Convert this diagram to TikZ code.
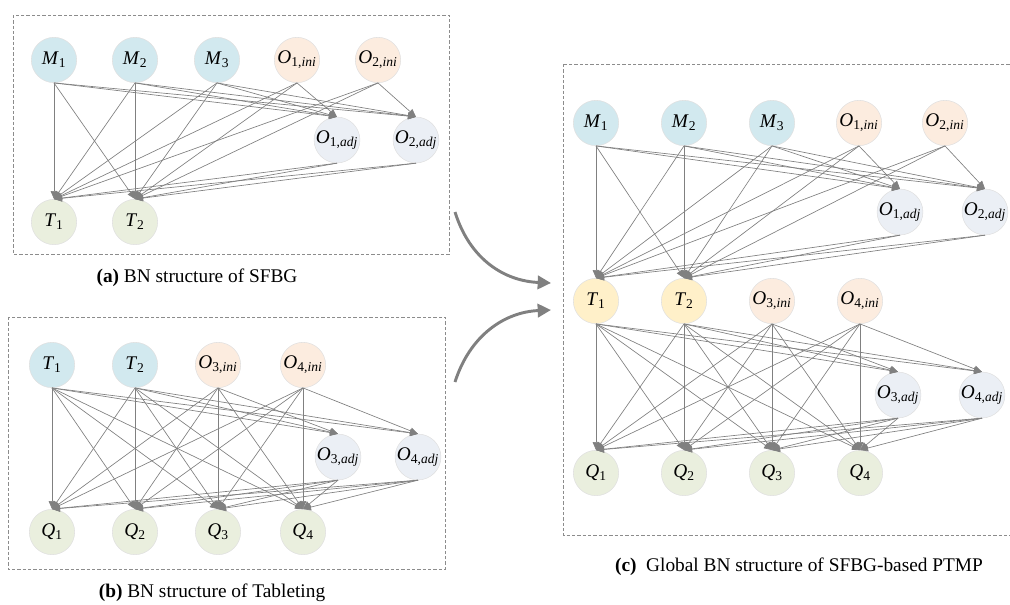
\documentclass[tikz,border=0pt]{standalone}
\usepackage{fontspec}
\setmainfont{Liberation Serif}
\usetikzlibrary{arrows.meta}
\definecolor{cM}{RGB}{210,233,239}
\definecolor{cI}{RGB}{252,236,223}
\definecolor{cA}{RGB}{235,239,245}
\definecolor{cG}{RGB}{234,239,222}
\definecolor{cY}{RGB}{255,240,201}
\definecolor{edgec}{RGB}{128,128,128}
\newcommand\lbl[2]{\textit{#1}\textsubscript{#2}}
\begin{document}
\begin{tikzpicture}[x=0.75pt,y=-0.75pt,
  bn/.style={circle,draw=black!12,line width=0.4pt,minimum size=34pt,inner sep=0pt,font=\fontsize{14.5}{16}\selectfont},
  nM/.style={bn,fill=cM},
  nI/.style={bn,fill=cI},
  nA/.style={bn,fill=cA},
  nG/.style={bn,fill=cG},
  nY/.style={bn,fill=cY},
  ed/.style={draw=edgec,line width=0.5pt,-{Triangle[length=6pt,width=5pt]}},
  frame/.style={draw=black!45,dash pattern=on 2.5pt off 1.5pt,line width=0.5pt},
  capt/.style={font=\fontsize{14.5}{17}\selectfont,inner sep=0pt},
  big/.style={draw=edgec,line width=2.2pt,-{Triangle[length=10pt,width=10pt]}}]
\useasboundingbox (0,0) rectangle (1010,604);

% frames
\draw[frame] (13,15) rectangle (449,254);
\draw[frame] (8,317) rectangle (445,569);
\draw[frame] (563,64) rectangle (1014,535);

% ---------- panel (a)
\node[nM] (aM1) at (54,60) {\lbl{M}{1}};
\node[nM] (aM2) at (135,60) {\lbl{M}{2}};
\node[nM] (aM3) at (217,60) {\lbl{M}{3}};
\node[nI] (aI1) at (297,60) {\lbl{O}{1,\textit{ini}}};
\node[nI] (aI2) at (378,60) {\lbl{O}{2,\textit{ini}}};
\node[nA] (aA1) at (337,140) {\lbl{O}{1,\textit{adj}}};
\node[nA] (aA2) at (416,140) {\lbl{O}{2,\textit{adj}}};
\node[nG] (aT1) at (54,222) {\lbl{T}{1}};
\node[nG] (aT2) at (135,222) {\lbl{T}{2}};
\foreach \s in {aM1,aM2,aM3}
  \foreach \t in {aT1,aT2,aA1,aA2}
    \draw[ed] (\s.south) -- (\t.north);
\foreach \s/\a in {aI1/aA1,aI2/aA2}
  \foreach \t in {aT1,aT2,\a}
    \draw[ed] (\s.south) -- (\t.north);
\foreach \s in {aA1,aA2}
  \foreach \t in {aT1,aT2}
    \draw[ed] (\s.south) -- (\t.north);
\node[capt] (capa) at (197,278) {\textbf{(a)} BN structure of SFBG};

% ---------- panel (b)
\node[nM] (bT1) at (52,365) {\lbl{T}{1}};
\node[nM] (bT2) at (135,365) {\lbl{T}{2}};
\node[nI] (bI3) at (218,365) {\lbl{O}{3,\textit{ini}}};
\node[nI] (bI4) at (303,365) {\lbl{O}{4,\textit{ini}}};
\node[nA] (bA3) at (338,457) {\lbl{O}{3,\textit{adj}}};
\node[nA] (bA4) at (418,457) {\lbl{O}{4,\textit{adj}}};
\node[nG] (bQ1) at (52,532) {\lbl{Q}{1}};
\node[nG] (bQ2) at (135,532) {\lbl{Q}{2}};
\node[nG] (bQ3) at (218,532) {\lbl{Q}{3}};
\node[nG] (bQ4) at (303,532) {\lbl{Q}{4}};
\foreach \s in {bT1,bT2}
  \foreach \t in {bQ1,bQ2,bQ3,bQ4,bA3,bA4}
    \draw[ed] (\s.south) -- (\t.north);
\foreach \s/\a in {bI3/bA3,bI4/bA4}
  \foreach \t in {bQ1,bQ2,bQ3,bQ4,\a}
    \draw[ed] (\s.south) -- (\t.north);
\foreach \s in {bA3,bA4}
  \foreach \t in {bQ1,bQ2,bQ3,bQ4}
    \draw[ed] (\s.south) -- (\t.north);
\node[capt] (capb) at (212,593) {\textbf{(b)} BN structure of Tableting};

% ---------- panel (c)
\node[nM] (cM1) at (596,123) {\lbl{M}{1}};
\node[nM] (cM2) at (684,123) {\lbl{M}{2}};
\node[nM] (cM3) at (772,123) {\lbl{M}{3}};
\node[nI] (cI1) at (859,123) {\lbl{O}{1,\textit{ini}}};
\node[nI] (cI2) at (945,123) {\lbl{O}{2,\textit{ini}}};
\node[nA] (cA1) at (900,212) {\lbl{O}{1,\textit{adj}}};
\node[nA] (cA2) at (985,212) {\lbl{O}{2,\textit{adj}}};
\node[nY] (cT1) at (596,301) {\lbl{T}{1}};
\node[nY] (cT2) at (684,301) {\lbl{T}{2}};
\node[nI] (cI3) at (772,301) {\lbl{O}{3,\textit{ini}}};
\node[nI] (cI4) at (860,301) {\lbl{O}{4,\textit{ini}}};
\node[nA] (cA3) at (898,395) {\lbl{O}{3,\textit{adj}}};
\node[nA] (cA4) at (982,395) {\lbl{O}{4,\textit{adj}}};
\node[nG] (cQ1) at (596,473) {\lbl{Q}{1}};
\node[nG] (cQ2) at (684,473) {\lbl{Q}{2}};
\node[nG] (cQ3) at (772,473) {\lbl{Q}{3}};
\node[nG] (cQ4) at (860,473) {\lbl{Q}{4}};
\foreach \s in {cM1,cM2,cM3}
  \foreach \t in {cT1,cT2,cA1,cA2}
    \draw[ed] (\s.south) -- (\t.north);
\foreach \s/\a in {cI1/cA1,cI2/cA2}
  \foreach \t in {cT1,cT2,\a}
    \draw[ed] (\s.south) -- (\t.north);
\foreach \s in {cA1,cA2}
  \foreach \t in {cT1,cT2}
    \draw[ed] (\s.south) -- (\t.north);
\foreach \s in {cT1,cT2}
  \foreach \t in {cQ1,cQ2,cQ3,cQ4,cA3,cA4}
    \draw[ed] (\s.south) -- (\t.north);
\foreach \s/\a in {cI3/cA3,cI4/cA4}
  \foreach \t in {cQ1,cQ2,cQ3,cQ4,\a}
    \draw[ed] (\s.south) -- (\t.north);
\foreach \s in {cA3,cA4}
  \foreach \t in {cQ1,cQ2,cQ3,cQ4}
    \draw[ed] (\s.south) -- (\t.north);
\node[capt] (capc) at (799,567) {\textbf{(c)}\ \ Global BN structure of SFBG-based PTMP};

% ---------- big arrows
\coordinate (u0) at (455,212);
\coordinate (u1) at (551,283);
\coordinate (l0) at (455,382);
\coordinate (l1) at (551,310);
\draw[big] (u0) .. controls (470,260) and (505,281) .. (u1);
\draw[big] (l0) .. controls (470,335) and (505,312) .. (l1);
\end{tikzpicture}
\end{document}
